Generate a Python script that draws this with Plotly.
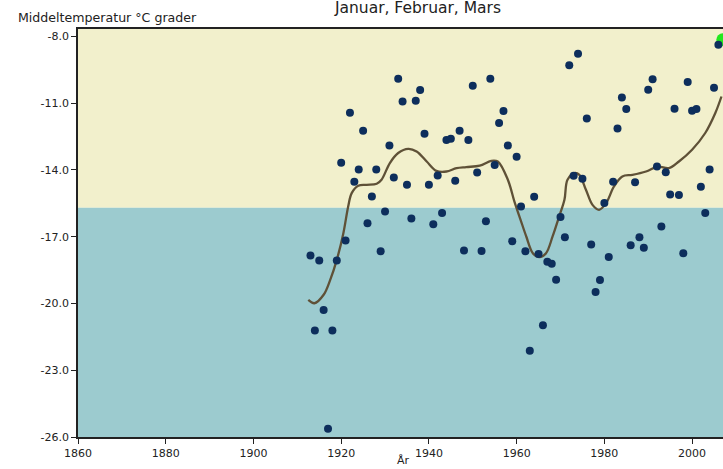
import plotly.graph_objects as go

# Mean temperature Jan-Mar, one value per year
years = list(range(1913, 2007))
temps = [
    -17.85, -21.22, -18.07, -20.29, -25.63, -21.22, -18.07, -13.68, -17.17, -11.43,
    -14.53, -13.98, -12.24, -16.39, -15.19, -13.98, -17.65, -15.87, -12.90, -14.34,
    -9.90, -10.92, -14.67, -16.18, -10.89, -10.41, -12.37, -14.67, -16.44, -14.25,
    -15.94, -12.66, -12.60, -14.49, -12.24, -17.62, -12.66, -10.22, -14.12, -17.64,
    -16.30, -9.90, -13.78, -11.89, -11.35, -12.90, -17.20, -13.41, -15.64, -17.65,
    -22.13, -15.21, -17.78, -20.98, -18.13, -18.22, -18.93, -16.11, -17.02, -9.30,
    -14.26, -8.78, -14.40, -11.69, -17.35, -19.49, -18.94, -15.48, -17.91, -14.53,
    -12.14, -10.74, -11.26, -17.38, -14.55, -17.03, -17.50, -10.40, -9.92, -13.85,
    -16.54, -14.10, -15.10, -11.25, -15.13, -17.74, -10.05, -11.34, -11.26, -14.76,
    -15.94, -13.98, -10.31, -8.37,
]

# Current year, highlighted
current_year = [2007]
current_temp = [-8.15]

# Smoothed trend curve
trend_years = [
    1912.5, 1913.9, 1916.0, 1917.5, 1919.0, 1920.5, 1921.6, 1922.4, 1923.9, 1925.8,
    1928.1, 1929.2, 1931.1, 1933.0, 1935.3, 1937.2, 1939.5, 1941.7, 1944.0, 1946.3,
    1948.5, 1951.6, 1954.2, 1955.7, 1958.0, 1959.5, 1960.9, 1962.2, 1963.7, 1965.2,
    1966.7, 1968.2, 1969.7, 1970.9, 1971.6, 1973.2, 1974.3, 1975.8, 1977.3, 1978.8,
    1980.4, 1982.2, 1984.1, 1986.4, 1989.5, 1992.2, 1994.7, 1997.0, 2000.0, 2003.0,
    2005.3, 2006.7,
]
trend_temps = [
    -19.84, -19.99, -19.61, -18.94, -18.04, -16.84, -15.64, -15.04, -14.71, -14.67,
    -14.62, -14.44, -13.69, -13.24, -13.05, -13.17, -13.62, -14.04, -14.07, -13.92,
    -13.87, -13.81, -13.59, -13.62, -14.44, -15.42, -16.24, -16.99, -17.74, -17.92,
    -17.74, -16.99, -16.09, -15.34, -14.44, -14.14, -14.22, -14.89, -15.57, -15.79,
    -15.49, -14.74, -14.29, -14.22, -14.07, -13.85, -13.92, -13.62, -13.09, -12.34,
    -11.44, -10.70,
]

threshold = -15.7

y_ticks = [-8.0, -11.0, -14.0, -17.0, -20.0, -23.0, -26.0]
y_tick_text = ["-8.0", "-11.0", "-14.0", "-17.0", "-20.0", "-23.0", "-26.0"]
x_ticks = [1860, 1880, 1900, 1920, 1940, 1960, 1980, 2000]

x_range = [1860, 2007.05]
y_range = [-26.0, -7.667]

fig = go.Figure()

fig.add_trace(go.Scatter(
    x=trend_years, y=trend_temps, mode="lines", line_shape="spline",
    line=dict(color="#5f5137", width=2.3), hoverinfo="skip", showlegend=False,
))
fig.add_trace(go.Scatter(
    x=current_year, y=current_temp, mode="markers", cliponaxis=False,
    marker=dict(color="#22e81e", size=13, symbol="circle"),
    showlegend=False,
))
fig.add_trace(go.Scatter(
    x=years, y=temps, mode="markers",
    marker=dict(color="#0d2e5c", size=8, symbol="circle"),
    showlegend=False,
))

# Two-tone background split at the threshold
fig.add_shape(type="rect", xref="paper", yref="y", x0=0, x1=1,
              y0=threshold, y1=y_range[1], fillcolor="#f2f0cc",
              line_width=0, layer="below")
fig.add_shape(type="rect", xref="paper", yref="y", x0=0, x1=1,
              y0=y_range[0], y1=threshold, fillcolor="#9ccbcf",
              line_width=0, layer="below")

font = "DejaVu Sans"

fig.update_layout(
    width=723, height=469,
    margin=dict(l=78, r=0, t=29, b=32),
    paper_bgcolor="white", plot_bgcolor="white",
    font=dict(family=font, size=11, color="#222222"),
    title=dict(text="Januar, Februar, Mars", x=418 / 723, xanchor="center",
               y=1 - 8 / 469, yanchor="middle",
               font=dict(family=font, size=15.5, color="#222222")),
    xaxis=dict(range=x_range, tickvals=x_ticks, ticks="outside", ticklen=5,
               tickcolor="#222222", showline=True, linecolor="#222222",
               linewidth=1.5, mirror=True, showgrid=False, zeroline=False,
               tickfont=dict(size=11)),
    yaxis=dict(range=y_range, tickvals=y_ticks, ticktext=y_tick_text,
               ticks="outside", ticklen=5, tickcolor="#222222",
               showline=True, linecolor="#222222", linewidth=1.5,
               showgrid=False, zeroline=False, tickfont=dict(size=11)),
    annotations=[
        dict(text="Middeltemperatur °C grader", xref="paper", yref="paper",
             x=-62 / 645, y=1 + 11 / 407.7, xanchor="left", yanchor="middle",
             showarrow=False, font=dict(family=font, size=12.6, color="#222222")),
        dict(text="År", xref="paper", yref="paper",
             x=(403 - 78) / 645, y=-15 / 407.7, xanchor="center", yanchor="top",
             showarrow=False, font=dict(family=font, size=11, color="#222222")),
    ],
)

fig.write_html("out.html")
